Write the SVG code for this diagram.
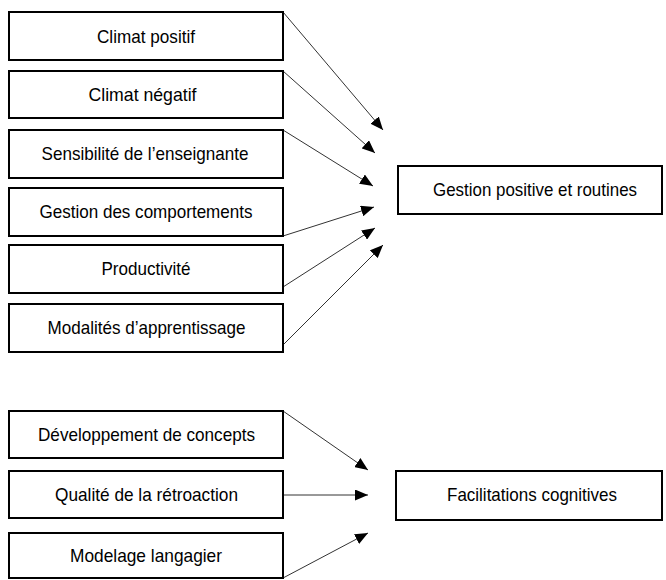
<svg xmlns="http://www.w3.org/2000/svg" width="666" height="580" viewBox="0 0 666 580">
<defs>
<style>
.box{fill:#fff;stroke:#000;stroke-width:2}
.lbl{font-family:"Liberation Sans",Arial,Helvetica,sans-serif;font-size:18.5px;fill:#000;text-anchor:middle}
.edge{stroke:#333;stroke-width:1;fill:none;marker-end:url(#ah)}
</style>
<marker id="ah" markerUnits="userSpaceOnUse" markerWidth="13" markerHeight="11" refX="13" refY="5.5" orient="auto" viewBox="0 0 13 11">
<path d="M0,0 L13,5.5 L0,11 z" fill="#000"/>
</marker>
</defs>
<rect width="666" height="580" fill="#fff"/>
<g id="connectors">
<line class="edge" x1="283" y1="12" x2="383" y2="130"/>
<line class="edge" x1="283" y1="71" x2="375" y2="153"/>
<line class="edge" x1="283" y1="130" x2="373" y2="186"/>
<line class="edge" x1="283" y1="236" x2="374" y2="207"/>
<line class="edge" x1="283" y1="287" x2="375" y2="228"/>
<line class="edge" x1="283" y1="345" x2="383" y2="245"/>
<line class="edge" x1="283" y1="411" x2="368" y2="470"/>
<line class="edge" x1="283" y1="495" x2="368" y2="495"/>
<line class="edge" x1="283" y1="578" x2="368" y2="533"/>
</g>
<g id="n1"><rect class="box" x="9" y="12" width="274" height="48"/><text class="lbl" x="146" y="43" textLength="98" lengthAdjust="spacingAndGlyphs">Climat positif</text></g>
<g id="n2"><rect class="box" x="9" y="71" width="274" height="47"/><text class="lbl" x="142.5" y="101" textLength="108" lengthAdjust="spacingAndGlyphs">Climat négatif</text></g>
<g id="n3"><rect class="box" x="9" y="130" width="274" height="48"/><text class="lbl" x="145" y="160" textLength="207" lengthAdjust="spacingAndGlyphs">Sensibilité de l’enseignante</text></g>
<g id="n4"><rect class="box" x="9" y="188" width="274" height="48"/><text class="lbl" x="146" y="218" textLength="213" lengthAdjust="spacingAndGlyphs">Gestion des comportements</text></g>
<g id="n5"><rect class="box" x="9" y="245" width="274" height="48"/><text class="lbl" x="146" y="275" textLength="89" lengthAdjust="spacingAndGlyphs">Productivité</text></g>
<g id="n6"><rect class="box" x="9" y="304" width="274" height="48"/><text class="lbl" x="146.5" y="334" textLength="198" lengthAdjust="spacingAndGlyphs">Modalités d’apprentissage</text></g>
<g id="n7"><rect class="box" x="398" y="166" width="264" height="48"/><text class="lbl" x="535" y="196" textLength="204" lengthAdjust="spacingAndGlyphs">Gestion positive et routines</text></g>
<g id="n8"><rect class="box" x="9" y="411" width="274" height="47"/><text class="lbl" x="146.5" y="441" textLength="217" lengthAdjust="spacingAndGlyphs">Développement de concepts</text></g>
<g id="n9"><rect class="box" x="9" y="471" width="274" height="47"/><text class="lbl" x="146.5" y="501" textLength="183" lengthAdjust="spacingAndGlyphs">Qualité de la rétroaction</text></g>
<g id="n10"><rect class="box" x="9" y="533" width="274" height="45"/><text class="lbl" x="146" y="562" textLength="152" lengthAdjust="spacingAndGlyphs">Modelage langagier</text></g>
<g id="n11"><rect class="box" x="396" y="471" width="266" height="49"/><text class="lbl" x="532" y="501" textLength="170" lengthAdjust="spacingAndGlyphs">Facilitations cognitives</text></g>
</svg>
